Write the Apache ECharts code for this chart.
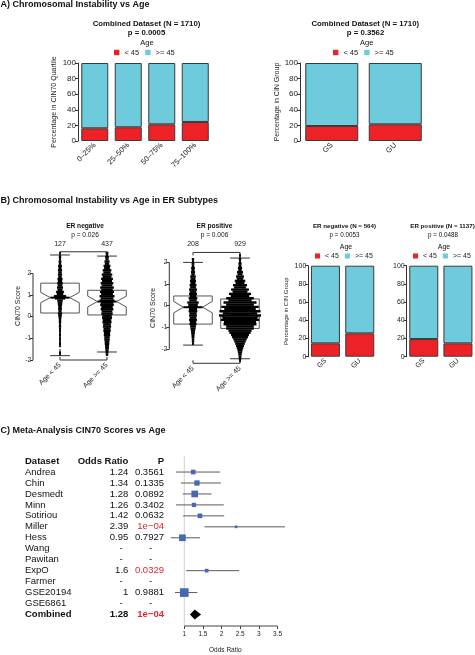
<!DOCTYPE html>
<html><head><meta charset="utf-8">
<script src="https://cdn.jsdelivr.net/npm/echarts@6/dist/echarts.min.js"></script>
<style>html,body{margin:0;padding:0;background:#fff}#c{width:475px;height:655px}</style>
</head><body><div id="c"></div>
<script>
// ---------------- DATA ----------------
// Panel A
const quartileCats = ['0–25%', '25–50%', '50–75%', '75–100%'];
const quartileUnder45 = [16.3, 17.6, 21.4, 24.4];      // % age < 45 in each CIN70 quartile
const groupCats = ['GS', 'GU'];
const groupUnder45All = [19.2, 21.4];
// Panel B bars
const groupUnder45ERneg = [14.7, 25.7];
const groupUnder45ERpos = [19.4, 14.7];
const pctTicks = [0, 20, 40, 60, 80, 100];
// Panel B boxplots
const boxCats = ['Age < 45', 'Age >= 45'];
const erNegCounts = [127, 437];
const erPosCounts = [208, 929];
// [q1, median, q3, notchLow, notchHigh, whiskerLow, whiskerHigh]
const erNegBox = [[0.17, 0.88, 1.55, 0.65, 1.12, -1.80, 2.85], [0.08, 0.70, 1.22, 0.45, 0.95, -1.63, 2.80]];
const erPosBox = [[-0.85, -0.07, 0.45, -0.33, 0.20, -1.82, 2.00], [-1.05, -0.38, 0.31, -0.53, -0.22, -2.45, 2.20]];
const scoreTicks = [-2, -1, 0, 1, 2];
// beeswarm histograms (counts per 0.2 bin starting at binStart)
const swarmBin = 0.2;
const erNegU45Start = -1.8;
const erNegU45 = [1, 0, 1, 1, 1, 1, 2, 2, 3, 6, 5, 6, 9, 24, 14, 10, 9, 8, 6, 6, 5, 3, 2, 1];
const erNegO45Start = -1.8;
const erNegO45 = [3, 5, 7, 9, 11, 13, 15, 17, 19, 22, 25, 27, 30, 30, 28, 27, 25, 23, 20, 16, 12, 8, 5, 3];
const erPosU45Start = -1.8;
const erPosU45 = [2, 3, 5, 8, 12, 14, 14, 16, 18, 22, 16, 14, 14, 12, 10, 9, 6, 5, 3, 2];
const erPosO45Start = -2.6;
const erPosO45 = [2, 4, 8, 14, 22, 32, 44, 58, 70, 82, 90, 88, 80, 70, 58, 46, 36, 28, 20, 14, 10, 6, 4, 2, 1];
// Panel C
const studies = ['Andrea', 'Chin', 'Desmedt', 'Minn', 'Sotiriou', 'Miller', 'Hess', 'Wang', 'Pawitan', 'ExpO', 'Farmer', 'GSE20194', 'GSE6861', 'Combined'];
const oddsRatio = [1.24, 1.34, 1.28, 1.26, 1.42, 2.39, 0.95, null, null, 1.6, null, 1, null, 1.28];
const ciLow = [0.78, 0.91, 0.96, 0.78, 0.97, 1.54, 0.64, null, null, 1.05, null, 0.75, null, 1.15];
const ciHigh = [1.96, 1.98, 1.73, 2.06, 2.07, 3.70, 1.42, null, null, 2.47, null, 1.35, null, 1.45];
const pValue = [0.3561, 0.1335, 0.0892, 0.3402, 0.0632, 0.0001, 0.7927, null, null, 0.0329, null, 0.9881, null, 0.0001];
const studyWeight = [7.9, 10.1, 16.2, 6.7, 7.9, 2.6, 16.2, null, null, 4.9, null, 27.3, null, null];
const orTicks = [1, 1.5, 2, 2.5, 3, 3.5];

// ---------------- STYLE ----------------
const RED = '#ec2227', CYAN = '#6dcbdc', EDGE = '#3a3a3a', INK = '#222';
const FONT = 'Liberation Sans';
const chart = echarts.init(document.getElementById('c'));

const grids = [
  {left: 78, top: 63, width: 134, height: 78},
  {left: 300, top: 63, width: 127, height: 78},
  {left: 33, top: 251.75, width: 102.2, height: 108.25},
  {left: 169.3, top: 252.44, width: 98.9, height: 110.85},
  {left: 308.3, top: 265.7, width: 68.6, height: 91},
  {left: 406.7, top: 265.7, width: 68.6, height: 91},
  {left: 161.9, top: 455.6, width: 126.8, height: 172.8}
];

function catX(gi, cats, fs) {
  return {type: 'category', gridIndex: gi, data: cats, axisLine: {show: false, onZero: false}, axisTick: {show: false},
    axisLabel: {rotate: 45, fontSize: fs, margin: 3, color: INK, interval: 0}};
}
function pctY(gi, name, gap, fs) {
  return {type: 'value', gridIndex: gi, min: 0, max: 100, interval: 20,
    axisLine: {show: true, onZero: false, lineStyle: {color: '#333', width: 1}},
    axisTick: {show: true, length: 3, lineStyle: {color: '#333'}},
    axisLabel: {fontSize: fs, color: INK, margin: 2}, splitLine: {show: false},
    name: name, nameLocation: 'middle', nameGap: gap, nameTextStyle: {fontSize: fs - 1, color: INK}};
}
function barPair(gi, red, bw) {
  return [
    {type: 'bar', name: '< 45', xAxisIndex: gi, yAxisIndex: gi, stack: 's' + gi, data: red, barWidth: bw,
      itemStyle: {color: RED, borderColor: EDGE, borderWidth: 1}},
    {type: 'bar', name: '>= 45', xAxisIndex: gi, yAxisIndex: gi, stack: 's' + gi,
      data: red.map(v => +(100 - v).toFixed(1)), barWidth: bw,
      itemStyle: {color: CYAN, borderColor: EDGE, borderWidth: 1}}
  ];
}
function boxX(gi, min) {
  return {type: 'value', gridIndex: gi, min: min, max: 2.6, axisLine: {show: false, onZero: false}, axisTick: {show: false},
    splitLine: {show: false},
    axisLabel: {customValues: [1, 2], formatter: v => boxCats[Math.round(v) - 1], rotate: 45, fontSize: 7, margin: 4, color: INK}};
}
function boxY(gi, min, max, gap) {
  return {type: 'value', gridIndex: gi, min: min, max: max, axisLine: {show: false, onZero: false},
    axisTick: {show: true, customValues: scoreTicks, length: 3, lineStyle: {color: '#333'}},
    axisLabel: {customValues: scoreTicks, fontSize: 6.5, margin: 2, color: INK}, splitLine: {show: false},
    name: 'CIN70 Score', nameLocation: 'middle', nameGap: gap, nameTextStyle: {fontSize: 7, color: INK}};
}
function renderBox(params, api) {
  const x = api.value(0);
  const q1 = api.value(1), med = api.value(2), q3 = api.value(3), nlo = api.value(4), nhi = api.value(5), wlo = api.value(6), whi = api.value(7);
  const cx = api.coord([x, med])[0];
  const unit = api.size([1, 0])[0];
  const hw = unit * 0.41, capW = unit * 0.21;
  const Y = v => api.coord([x, v])[1];
  const pts = [[cx - hw, Y(q1)], [cx - hw, Y(nlo)], [cx - hw / 2, Y(med)], [cx - hw, Y(nhi)], [cx - hw, Y(q3)],
    [cx + hw, Y(q3)], [cx + hw, Y(nhi)], [cx + hw / 2, Y(med)], [cx + hw, Y(nlo)], [cx + hw, Y(q1)]];
  const dash = {stroke: '#222', lineWidth: 1, lineDash: [2, 2]};
  const solid = {stroke: '#333', lineWidth: 1};
  return {type: 'group', children: [
    {type: 'polygon', shape: {points: pts}, style: {fill: 'none', stroke: '#555', lineWidth: 1}},
    {type: 'line', shape: {x1: cx, y1: Y(q3), x2: cx, y2: Y(whi)}, style: dash},
    {type: 'line', shape: {x1: cx, y1: Y(q1), x2: cx, y2: Y(wlo)}, style: dash},
    {type: 'line', shape: {x1: cx - capW, y1: Y(whi), x2: cx + capW, y2: Y(whi)}, style: solid},
    {type: 'line', shape: {x1: cx - capW, y1: Y(wlo), x2: cx + capW, y2: Y(wlo)}, style: solid},
    {type: 'line', shape: {x1: cx - hw / 2, y1: Y(med), x2: cx + hw / 2, y2: Y(med)}, style: {stroke: '#000', lineWidth: 2}}
  ]};
}
function swarmData(groups) {
  const out = [];
  groups.forEach((g, gi) => g.counts.forEach((c, j) => { if (c > 0) out.push([gi + 1, +(g.start + j * swarmBin).toFixed(2), c]); }));
  return out;
}
function renderSwarm(params, api) {
  const x = api.value(0), v = api.value(1), c = api.value(2);
  const p1 = api.coord([x, v]), p2 = api.coord([x, v + swarmBin]);
  const w = 1.5 + c * 0.45;
  const h = p1[1] - p2[1];
  // two staggered rows per bin to mimic the jagged beeswarm edge
  return {type: 'group', children: [
    {type: 'rect', shape: {x: p1[0] - w / 2, y: p2[1], width: w, height: h / 2 + 0.2}, style: {fill: '#000'}},
    {type: 'rect', shape: {x: p1[0] - w * 0.42, y: p2[1] + h / 2, width: w * 0.84, height: h / 2 + 0.2}, style: {fill: '#000'}}
  ]};
}
function frameRenderer(xMin, yMin, yMax, counts) {
  return function (params, api) {
    const a = api.coord([xMin, -2]), b = api.coord([xMin, 2]);
    const t1 = api.coord([1, yMax]), t2 = api.coord([2, yMax]);
    const b1 = api.coord([1, yMin]), b2 = api.coord([2, yMin]);
    const st = {stroke: '#333', lineWidth: 1};
    const txt = (x, y, s) => ({type: 'text', x: x, y: y, style: {text: s, fontSize: 7, fill: INK, fontFamily: FONT,
      align: 'center', verticalAlign: 'middle', textAlign: 'center', textVerticalAlign: 'middle'}});
    return {type: 'group', children: [
      {type: 'line', shape: {x1: a[0], y1: a[1], x2: b[0], y2: b[1]}, style: st},
      {type: 'line', shape: {x1: t1[0], y1: t1[1], x2: t2[0], y2: t2[1]}, style: st},
      {type: 'line', shape: {x1: t1[0], y1: t1[1], x2: t1[0], y2: t1[1] + 3}, style: st},
      {type: 'line', shape: {x1: t2[0], y1: t2[1], x2: t2[0], y2: t2[1] + 3}, style: st},
      {type: 'line', shape: {x1: b1[0], y1: b1[1], x2: b2[0], y2: b2[1]}, style: st},
      {type: 'line', shape: {x1: b1[0], y1: b1[1], x2: b1[0], y2: b1[1] - 3}, style: st},
      {type: 'line', shape: {x1: b2[0], y1: b2[1], x2: b2[0], y2: b2[1] - 3}, style: st},
      txt(t1[0], t1[1] - 8, String(counts[0])),
      txt(t2[0], t2[1] - 8, String(counts[1]))
    ]};
  };
}
function fmtP(p) { return p == null ? '-' : (p < 0.001 ? '1e\u221204' : p.toFixed(4)); }

// ---------------- FOREST ----------------
const lastRow = studies.length - 1;
const ciData = [], sqData = [];
studies.forEach((s, i) => {
  if (oddsRatio[i] != null && i !== lastRow) {
    ciData.push([i, ciLow[i], ciHigh[i]]);
    sqData.push([oddsRatio[i], i, studyWeight[i]]);
  }
});

function renderTableRow(params, api) {
  const i = api.value(0);
  const y = api.coord([1, i])[1];
  const bold = i === lastRow ? 'bold' : 'normal';
  const t = (x, s, al, col) => ({type: 'text', x: x, y: y, style: {text: s, fontSize: 9.5, fontWeight: bold, fill: col || '#111',
    fontFamily: FONT, align: al, verticalAlign: 'middle', textAlign: al, textVerticalAlign: 'middle'}});
  const or = oddsRatio[i], p = pValue[i];
  return {type: 'group', children: [
    t(25, studies[i], 'left'),
    or == null ? t(121, '-', 'center') : t(128.3, String(or), 'right'),
    p == null ? t(150.7, '-', 'center') : t(164, fmtP(p), 'right', p < 0.05 ? '#e3262b' : '#111')
  ]};
}

const gtext = (x, y, s, fs, fw, al) => ({type: 'text', x: x, y: y, style: {text: s, fontSize: fs, fontWeight: fw || 'normal', fill: '#111',
  fontFamily: FONT, align: al || 'center', verticalAlign: 'middle', textAlign: al || 'center', textVerticalAlign: 'middle'}});

function legendAt(left, top, fs) {
  return {left: left, top: top, padding: 0, itemGap: 6, itemWidth: fs * 0.72, itemHeight: fs * 0.72, icon: 'rect',
    selectedMode: false, data: ['< 45', '>= 45'], textStyle: {fontSize: fs, color: INK},
    itemStyle: {borderWidth: 0}};
}

const option = {
  animation: false,
  textStyle: {fontFamily: FONT},
  grid: grids,
  legend: [legendAt(114, 48.5, 7.5), legendAt(333, 48.5, 7.5), legendAt(315, 252.5, 7), legendAt(413, 252.5, 7)],
  xAxis: [
    catX(0, quartileCats, 7.5),
    catX(1, groupCats, 7.5),
    boxX(2, 0.4255),
    boxX(3, 0.4957),
    catX(4, groupCats, 7),
    catX(5, groupCats, 7),
    {type: 'value', gridIndex: 6, min: 0.4, max: 3.8, axisLine: {show: false, onZero: false},
      axisTick: {show: true, customValues: orTicks, length: 3, lineStyle: {color: '#444'}},
      axisLabel: {customValues: orTicks, fontSize: 6.5, margin: 5, color: INK}, splitLine: {show: false},
      name: 'Odds Ratio', nameLocation: 'middle', nameGap: 21, nameTextStyle: {fontSize: 6.5, color: INK}}
  ],
  yAxis: [
    pctY(0, 'Percentage in CIN70 Quartile', 20, 8),
    pctY(1, 'Percentage in CIN Group', 17, 8),
    boxY(2, -2, 3, 9),
    boxY(3, -2.66, 2.46, 13),
    pctY(4, 'Percentage in CIN Group', 19, 7),
    pctY(5, '', 19, 7),
    {type: 'value', gridIndex: 6, min: -1.5, max: 14.05, inverse: true, show: false, axisLine: {onZero: false}}
  ],
  graphic: {elements: [
    gtext(0.5, 5, 'A) Chromosomal Instability vs Age', 9, 'bold', 'left'),
    gtext(146.5, 24.3, 'Combined Dataset (N = 1710)', 7.8, 'bold'),
    gtext(146.5, 33.3, 'p = 0.0005', 7.8, 'bold'),
    gtext(147, 42.8, 'Age', 7.5),
    gtext(365.3, 24.3, 'Combined Dataset (N = 1710)', 7.8, 'bold'),
    gtext(365.5, 33.3, 'p = 0.3562', 7.8, 'bold'),
    gtext(366.7, 42.8, 'Age', 7.5),
    gtext(0.5, 200.7, 'B) Chromosomal Instability vs Age in ER Subtypes', 9, 'bold', 'left'),
    gtext(85, 226, 'ER negative', 6.6, 'bold'),
    gtext(85, 235, 'p = 0.026', 6.6),
    gtext(214.5, 226, 'ER positive', 6.6, 'bold'),
    gtext(214.5, 235, 'p = 0.006', 6.6),
    gtext(344.5, 226.7, 'ER negative (N = 564)', 6.2, 'bold'),
    gtext(344.5, 235.7, 'p = 0.0053', 6.3),
    gtext(346, 247.3, 'Age', 7),
    gtext(442.5, 226.7, 'ER positive (N = 1137)', 6.2, 'bold'),
    gtext(443, 235.7, 'p = 0.0488', 6.3),
    gtext(444, 247.3, 'Age', 7),
    gtext(0.5, 431, 'C) Meta-Analysis CIN70 Scores vs Age', 9, 'bold', 'left'),
    gtext(25, 461.2, 'Dataset', 9.5, 'bold', 'left'),
    gtext(128.3, 461.2, 'Odds Ratio', 9.5, 'bold', 'right'),
    gtext(164, 461.2, 'P', 9.5, 'bold', 'right')
  ]},
  series: [
    ...barPair(0, quartileUnder45, 27),
    ...barPair(1, groupUnder45All, 53),
    ...barPair(4, groupUnder45ERneg, 29),
    ...barPair(5, groupUnder45ERpos, 29),
    // boxplots ER negative
    {type: 'custom', xAxisIndex: 2, yAxisIndex: 2, silent: true, data: erNegBox.map((b, i) => [i + 1, ...b]), renderItem: renderBox},
    {type: 'custom', xAxisIndex: 2, yAxisIndex: 2, silent: true,
      data: swarmData([{start: erNegU45Start, counts: erNegU45}, {start: erNegO45Start, counts: erNegO45}]), renderItem: renderSwarm},
    {type: 'custom', xAxisIndex: 2, yAxisIndex: 2, silent: true, data: [[0]], renderItem: frameRenderer(0.4255, -2, 3, erNegCounts)},
    // boxplots ER positive
    {type: 'custom', xAxisIndex: 3, yAxisIndex: 3, silent: true, data: erPosBox.map((b, i) => [i + 1, ...b]), renderItem: renderBox},
    {type: 'custom', xAxisIndex: 3, yAxisIndex: 3, silent: true,
      data: swarmData([{start: erPosU45Start, counts: erPosU45}, {start: erPosO45Start, counts: erPosO45}]), renderItem: renderSwarm},
    {type: 'custom', xAxisIndex: 3, yAxisIndex: 3, silent: true, data: [[0]], renderItem: frameRenderer(0.4957, -2.66, 2.46, erPosCounts)},
    // forest: reference line + axis line
    {type: 'custom', xAxisIndex: 6, yAxisIndex: 6, silent: true, data: [[0]], renderItem: function (params, api) {
      const r1 = api.coord([1, -1.5]), r2 = api.coord([1, 14.05]);
      const a1 = api.coord([orTicks[0], 14.05]), a2 = api.coord([orTicks[orTicks.length - 1], 14.05]);
      return {type: 'group', children: [
        {type: 'line', shape: {x1: r1[0], y1: r1[1], x2: r2[0], y2: r2[1] - 1}, style: {stroke: '#cfcfcf', lineWidth: 1}},
        {type: 'line', shape: {x1: a1[0], y1: a1[1], x2: a2[0], y2: a2[1]}, style: {stroke: '#444', lineWidth: 1}}
      ]};
    }},
    // CI lines
    {type: 'custom', xAxisIndex: 6, yAxisIndex: 6, silent: true, data: ciData, renderItem: function (params, api) {
      const i = api.value(0);
      const p1 = api.coord([api.value(1), i]), p2 = api.coord([api.value(2), i]);
      return {type: 'line', shape: {x1: p1[0], y1: p1[1], x2: p2[0], y2: p2[1]}, style: {stroke: '#5a5a5a', lineWidth: 1}};
    }},
    // squares
    {type: 'scatter', xAxisIndex: 6, yAxisIndex: 6, silent: true, symbol: 'rect', data: sqData,
      symbolSize: d => Math.sqrt(d[2]) * 1.66, itemStyle: {color: '#4668b3', opacity: 1}},
    // combined diamond
    {type: 'custom', xAxisIndex: 6, yAxisIndex: 6, silent: true,
      data: [[oddsRatio[lastRow], lastRow, ciLow[lastRow], ciHigh[lastRow]]], renderItem: function (params, api) {
      const i = api.value(1);
      const c = api.coord([api.value(0), i]), l = api.coord([api.value(2), i]), r = api.coord([api.value(3), i]);
      const h = api.size([0, 1])[1] * 0.46;
      return {type: 'polygon', shape: {points: [[l[0], c[1]], [c[0], c[1] - h], [r[0], c[1]], [c[0], c[1] + h]]}, style: {fill: '#000'}};
    }},
    // table
    {type: 'custom', xAxisIndex: 6, yAxisIndex: 6, silent: true, data: studies.map((s, i) => [i]), renderItem: renderTableRow}
  ]
};
chart.setOption(option);
</script>
</body></html>
